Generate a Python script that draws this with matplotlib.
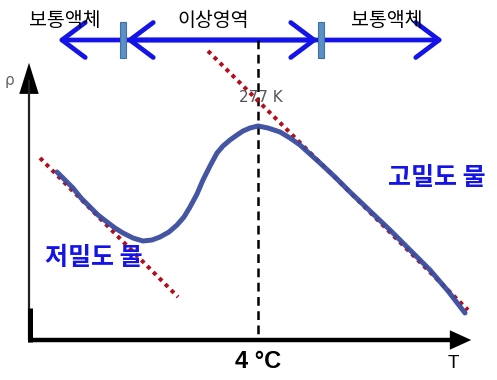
import matplotlib
matplotlib.use('Agg')
import matplotlib.pyplot as plt
from matplotlib.patches import FancyArrowPatch, Rectangle

KO = ['Noto Sans CJK KR', 'DejaVu Sans']

# schematic density curve of water (picture coordinates, y grows downward)
CURVE_X = [57, 65, 73, 81, 90, 98, 107, 115, 123, 133, 143, 152, 160, 169, 177, 184, 190,
           197, 203, 210, 217, 223, 230, 237, 243, 250, 258, 268, 280, 290, 300, 310, 320,
           335, 350, 370, 390, 410, 430, 448, 465]
CURVE_Y = [172, 180, 188, 198, 207, 215, 222, 228, 233, 238, 241, 240, 237, 232, 225, 217, 207,
           194, 180, 166, 153, 146, 140, 135, 131, 128, 126, 128, 132, 138, 145, 154, 163,
           177, 192, 211, 230, 250, 270, 291, 313]

# tangent (dotted) lines
LOW_X = [40, 178]
LOW_Y = [158, 297]
HIGH_X = [208, 468]
HIGH_Y = [51, 310]

# region bar
REGION_EDGES = [58, 123, 321, 443]
REGION_LABELS = ['보통액체', '이상영역', '보통액체']
REGION_LABEL_X = [65, 213, 387]

T_MAX = 258  # 4 degC / 277 K

fig = plt.figure(figsize=(4.97, 3.80), dpi=100)
ax = fig.add_axes([0, 0, 1, 1])
ax.set_xlim(0, 497)
ax.set_ylim(380, 0)
ax.axis('off')

blue = '#1414e6'
red = '#b0101e'

# axes arrows
ax.plot([29, 29], [340, 80], color='#222222', lw=1.6, solid_capstyle='butt')
ax.add_patch(FancyArrowPatch((29, 90), (29, 60), arrowstyle='-|>,head_length=1.6,head_width=0.5',
                             mutation_scale=14, color='black', lw=0))
ax.plot([29.5, 29.5], [308, 342], color='black', lw=3.6, solid_capstyle='butt')
ax.plot([28, 460], [340, 340], color='black', lw=3.2, solid_capstyle='butt')
ax.add_patch(FancyArrowPatch((455, 340), (474, 340), arrowstyle='-|>,head_length=1.1,head_width=0.5',
                             mutation_scale=14, color='black', lw=0))

ax.text(10, 80, 'ρ', fontsize=11, color='#666666', ha='center', va='center')
ax.text(453, 364, 'T', fontsize=13.5, family='Liberation Sans', ha='center', va='center')
ax.text(T_MAX, 361, '4 °C', fontsize=17, fontweight='bold', family='Liberation Sans',
        ha='center', va='center')

# dashed line at the maximum
ax.plot([T_MAX, T_MAX], [40, 340], color='black', lw=1.8, dashes=(3.5, 2.2))
ax.text(T_MAX + 3, 98, '277 K', fontsize=11, color='#555555', family='Liberation Sans Narrow',
        ha='center', va='center')

# tangents and curve
ax.plot(LOW_X, LOW_Y, color=red, lw=2.9, dashes=(1, 1.1), solid_capstyle='butt')
ax.plot(HIGH_X, HIGH_Y, color=red, lw=2.9, dashes=(1, 1.1), solid_capstyle='butt')
ax.plot(CURVE_X, CURVE_Y, color='#3a4d9e', lw=3.6, solid_joinstyle='round',
        solid_capstyle='round', alpha=0.95)

# region arrows
ay = 40
sty = '->,head_length=0.6,head_width=0.45'
arr = [(REGION_EDGES[1] - 3, REGION_EDGES[0]), (REGION_EDGES[1] + 3, REGION_EDGES[2] - 3),
       (REGION_EDGES[2] - 3, REGION_EDGES[1] + 3), (REGION_EDGES[2] + 3, REGION_EDGES[3])]
for a, b in arr:
    ax.add_patch(FancyArrowPatch((a, ay), (b, ay), arrowstyle=sty, mutation_scale=28,
                                 color=blue, lw=3.4, shrinkA=0, shrinkB=0))
for e in REGION_EDGES[1:3]:
    ax.add_patch(Rectangle((e - 3, 22), 6, 36, facecolor='#5b8fc8', edgecolor='#41719c', lw=0.8,
                           zorder=5))
for lab, x in zip(REGION_LABELS, REGION_LABEL_X):
    ax.text(x, 20, lab, fontsize=14, family=KO, ha='center', va='center')

ax.text(437, 178, '고밀도 물', fontsize=18, fontweight='bold', color=blue, family=KO,
        ha='center', va='center')
ax.text(94, 258, '저밀도 물', fontsize=18, fontweight='bold', color=blue, family=KO,
        ha='center', va='center')

fig.savefig('out.png', dpi=100)
